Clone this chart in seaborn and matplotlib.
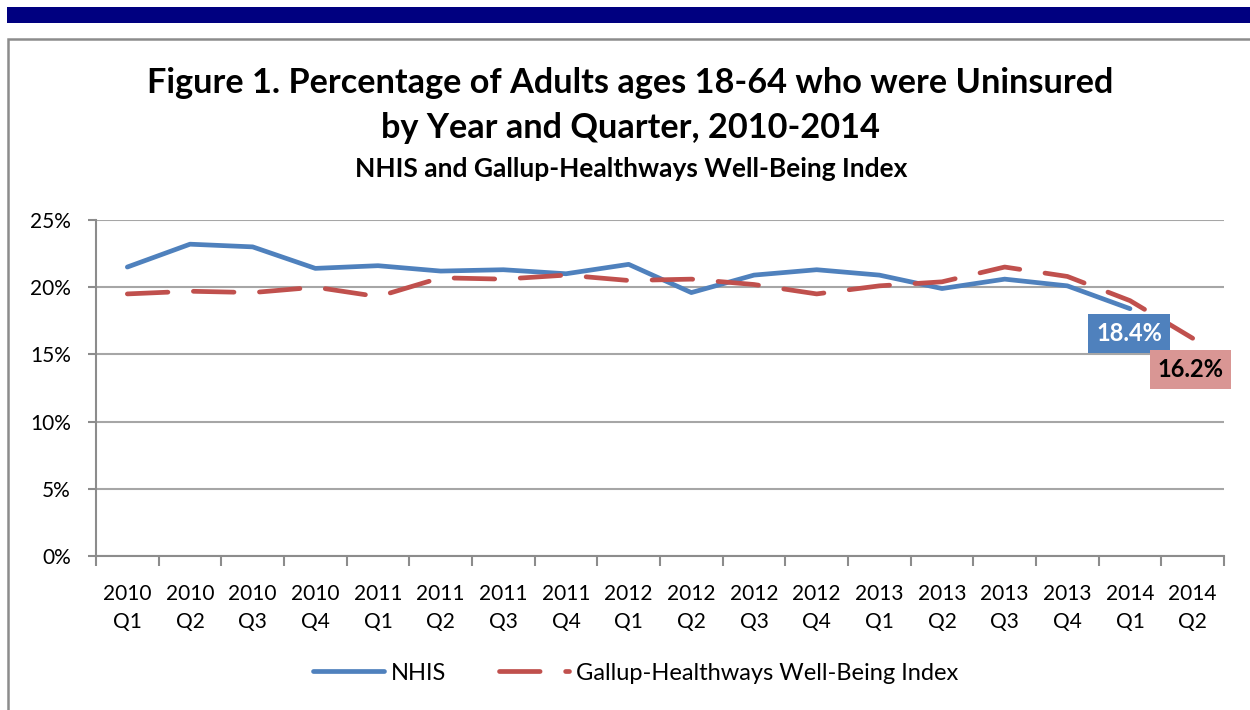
import matplotlib
matplotlib.use("Agg")
import matplotlib.pyplot as plt
import seaborn as sns
import pandas as pd
from matplotlib.patches import Rectangle
from matplotlib.ticker import FixedLocator, FuncFormatter

quarters = ["2010\nQ1", "2010\nQ2", "2010\nQ3", "2010\nQ4",
            "2011\nQ1", "2011\nQ2", "2011\nQ3", "2011\nQ4",
            "2012\nQ1", "2012\nQ2", "2012\nQ3", "2012\nQ4",
            "2013\nQ1", "2013\nQ2", "2013\nQ3", "2013\nQ4",
            "2014\nQ1", "2014\nQ2"]
nhis = [21.5, 23.2, 23.0, 21.4, 21.6, 21.2, 21.3, 21.0, 21.7, 19.6, 20.9, 21.3,
        20.9, 19.9, 20.6, 20.1, 18.4, None]
gallup = [19.5, 19.7, 19.6, 20.0, 19.3, 20.7, 20.6, 20.9, 20.5, 20.6, 20.2, 19.5,
          20.1, 20.4, 21.5, 20.8, 19.0, 16.2]
series_names = ["NHIS", "Gallup-Healthways Well-Being Index"]
yticks = [0, 5, 10, 15, 20, 25]

rows = []
for i, q in enumerate(quarters):
    if nhis[i] is not None:
        rows.append({"x": i, "val": nhis[i], "series": series_names[0]})
    rows.append({"x": i, "val": gallup[i], "series": series_names[1]})
df = pd.DataFrame(rows)

sns.set_theme(style="white")
plt.rcParams["font.family"] = ["Lato", "DejaVu Sans"]
plt.rcParams["text.color"] = "black"
plt.rcParams["axes.labelcolor"] = "black"
plt.rcParams["xtick.color"] = "black"
plt.rcParams["ytick.color"] = "black"

W, H = 1250, 710
fig = plt.figure(figsize=(12.5, 7.1), dpi=100)

def fx(px):
    return px / W

def fy(py):
    return 1 - py / H

# top navy band and chart frame
fig.patches.append(Rectangle((fx(7), fy(22.5)), 1.0, (22.5 - 6.5) / H,
                             transform=fig.transFigure, facecolor="#000080",
                             edgecolor="none", zorder=0))
fig.patches.append(Rectangle((fx(8), fy(760)), 1.2, (760 - 39) / H,
                             transform=fig.transFigure, facecolor="none",
                             edgecolor="#8c8c8c", linewidth=1.8, zorder=0))

ax = fig.add_axes([fx(96), fy(556), fx(1224) - fx(96), (556 - 220) / H])

colors = {series_names[0]: "#4F81BD", series_names[1]: "#C0504D"}
sns.lineplot(data=df, x="x", y="val", hue="series", style="series",
             palette=colors, dashes={series_names[0]: "", series_names[1]: (8.6, 5.4)},
             linewidth=3.4, ax=ax, legend=True)
for ln in ax.lines:
    ln.set_solid_capstyle("round")
    ln.set_dash_capstyle("round")

ax.set_xlim(-0.5, len(quarters) - 0.5)
ax.set_ylim(0, 25)
ax.set_xlabel("")
ax.set_ylabel("")

ax.yaxis.set_major_locator(FixedLocator(yticks))
ax.yaxis.set_major_formatter(FuncFormatter(lambda v, p: f"{int(v)}%"))
ax.grid(axis="y", color="#a6a6a6", linewidth=1.5)
ax.set_axisbelow(True)

ax.xaxis.set_major_locator(FixedLocator([i - 0.5 for i in range(len(quarters) + 1)]))
ax.xaxis.set_major_formatter(FuncFormatter(lambda v, p: ""))
ax.xaxis.set_minor_locator(FixedLocator(list(range(len(quarters)))))
ax.set_xticklabels(quarters, minor=True)
ax.tick_params(axis="x", which="major", direction="out", length=7, width=1.5,
               color="#8c8c8c", bottom=True)
ax.tick_params(axis="x", which="minor", length=0, pad=20, labelsize=15,
               labelcolor="black")
ax.tick_params(axis="y", direction="out", length=6, width=1.5, color="#8c8c8c",
               left=True, labelsize=15, labelcolor="black", pad=12)
for lbl in ax.get_xticklabels(minor=True):
    lbl.set_linespacing(1.5)

for s in ["top", "right"]:
    ax.spines[s].set_visible(False)
for s in ["left", "bottom"]:
    ax.spines[s].set_color("#8c8c8c")
    ax.spines[s].set_linewidth(1.5)

# data labels
ax.annotate("18.4%", xy=(16, nhis[16]), xytext=(-1, -25), textcoords="offset pixels",
            ha="center", va="center", fontsize=17, fontweight="bold", color="white",
            bbox=dict(boxstyle="square,pad=0.33", facecolor="#4F81BD", edgecolor="none"),
            zorder=5)
ax.annotate("16.2%", xy=(17, gallup[17]), xytext=(-2, -31), textcoords="offset pixels",
            ha="center", va="center", fontsize=17, fontweight="bold", color="black",
            bbox=dict(boxstyle="square,pad=0.33", facecolor="#D99694", edgecolor="none"),
            zorder=5, annotation_clip=False)

# legend
leg = ax.legend(loc="center", bbox_to_anchor=(fx(636), fy(673)),
                bbox_transform=fig.transFigure, ncol=2, frameon=False,
                fontsize=17, handlelength=3.0, columnspacing=2.2, handletextpad=0.3)
for t in leg.get_texts():
    t.set_color("black")

# titles
fig.text(fx(630), fy(83), "Figure 1. Percentage of Adults ages 18-64 who were Uninsured",
         ha="center", va="center", fontsize=24.7, fontweight="bold", color="black")
fig.text(fx(630), fy(128), "by Year and Quarter, 2010-2014",
         ha="center", va="center", fontsize=24.7, fontweight="bold", color="black")
fig.text(fx(631), fy(169), "NHIS and Gallup-Healthways Well-Being Index",
         ha="center", va="center", fontsize=19, fontweight="bold", color="black")

fig.savefig("out.png", dpi=100)
